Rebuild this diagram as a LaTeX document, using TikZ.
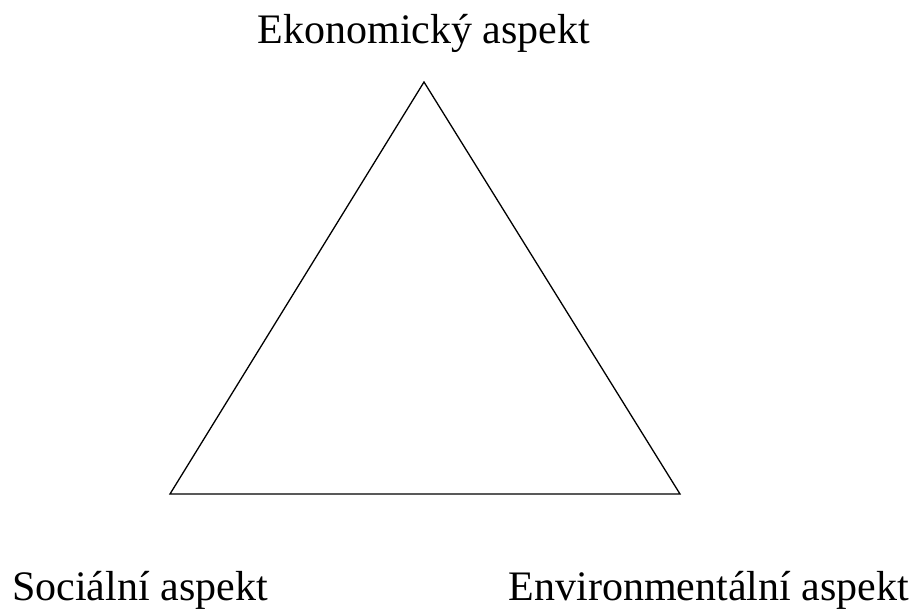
\documentclass[tikz,border=0pt]{standalone}
\usepackage{fontspec}
\setmainfont{Liberation Serif}
\usepackage{tikz}

\tikzset{
  aspect/.style={font=\fontsize{42}{50}\selectfont, inner sep=0pt},
  side/.style={line width=1.3pt, line join=miter}
}

\begin{document}
\begin{tikzpicture}[x=1pt, y=-1pt]
\useasboundingbox (0,0) rectangle (916,608);

% Corners of the triangle
\coordinate (eko) at (424,82);
\coordinate (soc) at (170,494);
\coordinate (env) at (680,494);

% Triangle of the three aspects
\draw[side] (eko) -- (soc) -- (env) -- cycle;

% Labels
\node[aspect, anchor=base] (ekolabel) at (424,43) {Ekonomický aspekt};
\node[aspect, anchor=base west] (soclabel) at (12,600) {Sociální aspekt};
\node[aspect, anchor=base east] (envlabel) at (909,600) {Environmentální aspekt};
\end{tikzpicture}
\end{document}
